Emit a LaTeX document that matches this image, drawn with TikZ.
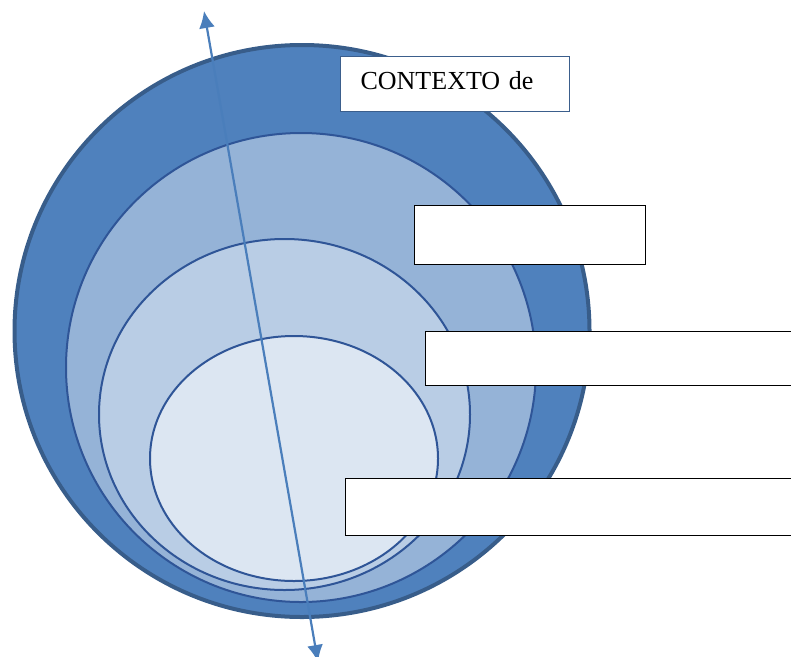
\documentclass[tikz,border=0pt]{standalone}
\usepackage{fontspec}
\setmainfont{Liberation Serif}
\usetikzlibrary{shapes,arrows.meta,positioning}
\definecolor{outerblue}{HTML}{4F81BD}
\definecolor{outeredge}{HTML}{385D8A}
\definecolor{midblue}{HTML}{95B3D7}
\definecolor{lightblue}{HTML}{B9CDE5}
\definecolor{paleblue}{HTML}{DCE6F2}
\definecolor{ringline}{HTML}{2F5597}
\definecolor{axisblue}{HTML}{4A7EBB}
\definecolor{tagedge}{HTML}{3B5E8C}

\begin{document}
\begin{tikzpicture}[x=1pt,y=-1pt]
\tikzstyle{ring}=[ellipse, inner sep=0pt, draw=ringline, line width=2pt]
\tikzstyle{tag}=[rectangle, anchor=north west, draw=black, fill=white, line width=1.2pt, inner sep=0pt]
\tikzstyle{connect}=[{Latex[length=17pt,width=16pt]}-{Latex[length=17pt,width=16pt]}, line width=2.2pt, draw=axisblue]
\useasboundingbox (0,0) rectangle (791,656);
	\node[ring, fill=outerblue, draw=outeredge, line width=4pt, minimum width=575, minimum height=572] (r_1) at (302,331) {};
	\node[ring, fill=midblue, minimum width=470, minimum height=469] (r_2) at (301,367.5) {};
	\node[ring, fill=lightblue, minimum width=371, minimum height=351] (r_3) at (284.5,414.5) {};
	\node[ring, fill=paleblue, minimum width=288, minimum height=245] (r_4) at (294,458.5) {};

	\coordinate (ax_top) at (204,11);
	\coordinate (ax_bot) at (318,662);
	\draw[connect] (ax_bot) -- (ax_top);

	\node[tag, draw=tagedge, minimum width=229, minimum height=55, text width=189, inner xsep=20pt, align=left, text height=16, text depth=6, font=\fontsize{26}{30}\selectfont] (b_1) at (340,56) {CONTEXTO de};
	\node[tag, minimum width=231, minimum height=59] (b_2) at (414,205) {};
	\node[tag, minimum width=380, minimum height=54] (b_3) at (425,331) {};
	\node[tag, minimum width=460, minimum height=57] (b_4) at (345,478) {};
\end{tikzpicture}
\end{document}
